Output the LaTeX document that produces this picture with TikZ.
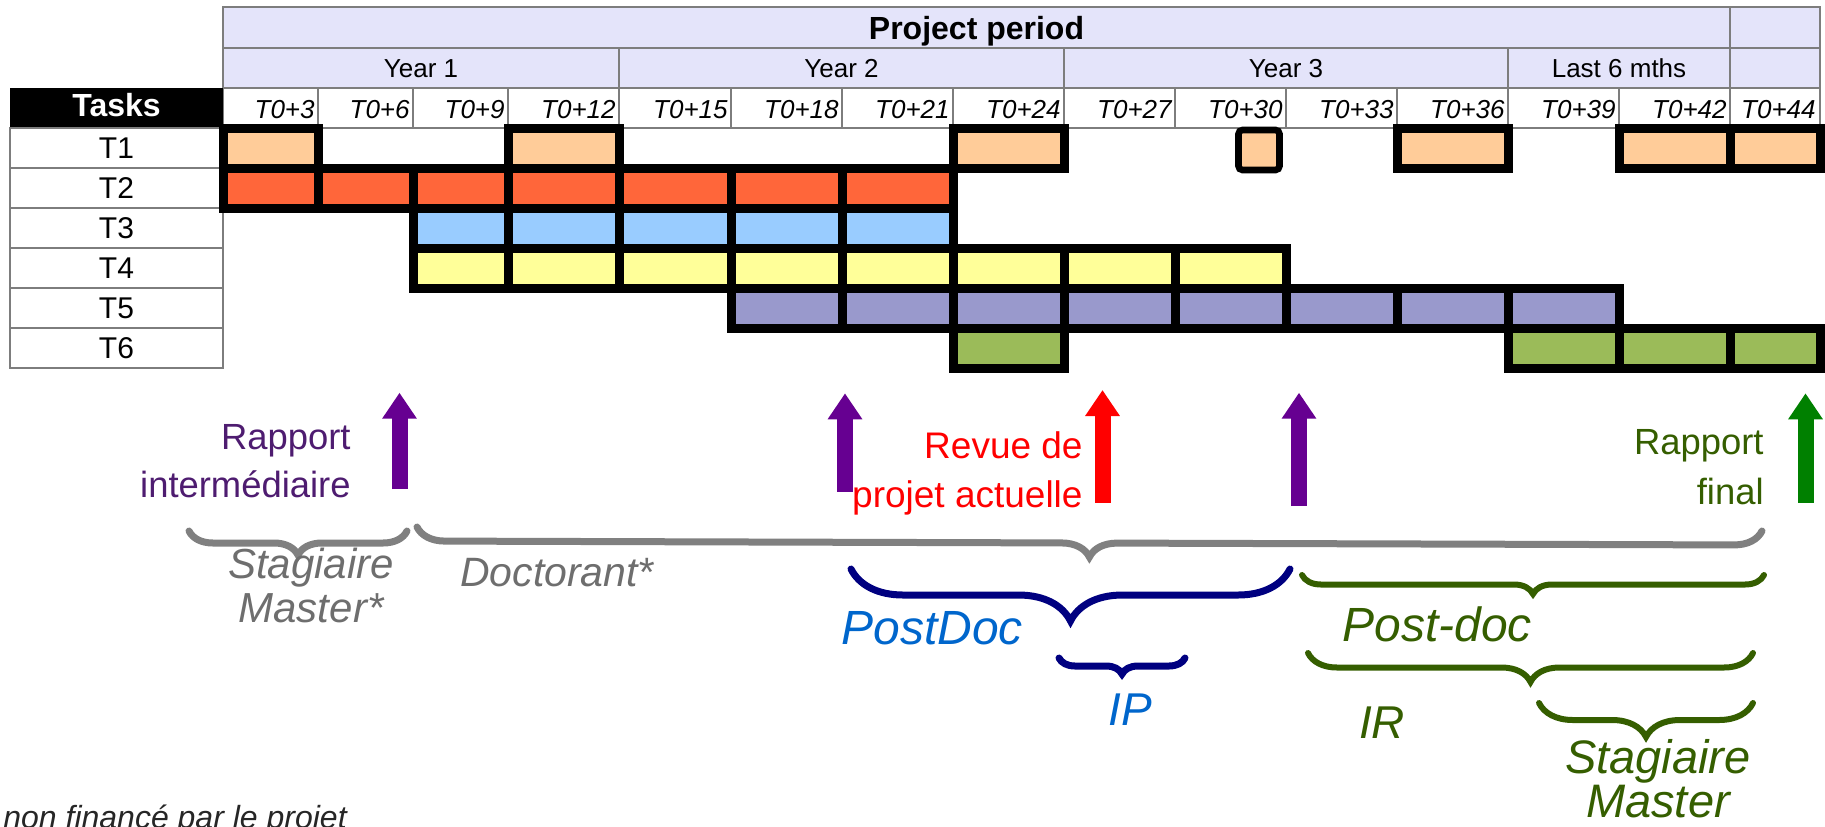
\documentclass[tikz,border=0pt]{standalone}
\usepackage{fontspec}
\setmainfont{Liberation Sans}
\usetikzlibrary{arrows.meta,decorations.pathreplacing}

\definecolor{hdrlav}{RGB}{228,228,250}
\definecolor{gridgray}{RGB}{125,125,125}
\definecolor{peachT}{RGB}{255,204,153}
\definecolor{orangeT}{RGB}{255,102,58}
\definecolor{blueT}{RGB}{153,204,255}
\definecolor{yellowT}{RGB}{255,255,153}
\definecolor{lilacT}{RGB}{153,153,204}
\definecolor{greenT}{RGB}{155,187,89}
\definecolor{plum}{RGB}{102,0,145}
\definecolor{plumtext}{RGB}{78,28,112}
\definecolor{mossgreen}{RGB}{53,94,0}
\definecolor{markgreen}{RGB}{0,128,0}
\definecolor{navybr}{RGB}{0,0,128}
\definecolor{bluetext}{RGB}{0,102,204}
\definecolor{graybr}{RGB}{128,128,128}
\definecolor{graytext}{RGB}{110,110,110}

\newcommand\fsz[2]{\fontsize{#1}{#2}\selectfont}

\tikzset{
	gridline/.style={draw=gridgray, line width=0.7pt},
	cellbox/.style={draw=black, line width=4.5pt},
	milestone/.style={line width=8pt, -{Triangle[length=13pt,width=16.5pt]}},
	curly/.style={decorate, line width=3.5pt, line cap=round, decoration={brace, mirror, amplitude=#1}},
	txt/.style={inner sep=0pt},
}

\begin{document}
\begin{tikzpicture}[x=0.5pt, y=-0.5pt]
		%%%%% START %%%%%
		\useasboundingbox (0,0) rectangle (1825,826);
		
		% header
		\filldraw[gridline, fill=hdrlav] (223,7) rectangle (1730,48) (1730,7) rectangle (1820,48);
		\filldraw[gridline, fill=hdrlav] (223,48) rectangle (619,88) (619,48) rectangle (1064,88) (1064,48) rectangle (1508,88) (1508,48) rectangle (1730,88) (1730,48) rectangle (1820,88);
		\draw[gridline] (223,88) rectangle (318,128) (318,88) rectangle (413,128) (413,88) rectangle (508,128) (508,88) rectangle (619,128) (619,88) rectangle (731,128) (731,88) rectangle (842,128) (842,88) rectangle (953,128) (953,88) rectangle (1064,128) (1064,88) rectangle (1175,128) (1175,88) rectangle (1286,128) (1286,88) rectangle (1397,128) (1397,88) rectangle (1508,128) (1508,88) rectangle (1619,128) (1619,88) rectangle (1730,128) (1730,88) rectangle (1820,128);
		
		\node[txt, font=\fsz{16}{19}\bfseries, anchor=base] (period) at (976.5,39.3) {Project period};
		\node[txt, font=\fsz{13}{15}, anchor=base] (year1) at (421,77.5) {Year 1};
		\node[txt, font=\fsz{13}{15}, anchor=base] (year2) at (841.5,77.5) {Year 2};
		\node[txt, font=\fsz{13}{15}, anchor=base] (year3) at (1286,77.5) {Year 3};
		\node[txt, font=\fsz{13}{15}, anchor=base] (last6) at (1619,77.5) {Last 6 mths};
		
		\node[txt, font=\fsz{13}{15}\itshape, anchor=base east] (m3) at (315,118.3) {T0+3};
		\node[txt, font=\fsz{13}{15}\itshape, anchor=base east] (m6) at (410,118.3) {T0+6};
		\node[txt, font=\fsz{13}{15}\itshape, anchor=base east] (m9) at (505,118.3) {T0+9};
		\node[txt, font=\fsz{13}{15}\itshape, anchor=base east] (m12) at (616,118.3) {T0+12};
		\node[txt, font=\fsz{13}{15}\itshape, anchor=base east] (m15) at (728,118.3) {T0+15};
		\node[txt, font=\fsz{13}{15}\itshape, anchor=base east] (m18) at (839,118.3) {T0+18};
		\node[txt, font=\fsz{13}{15}\itshape, anchor=base east] (m21) at (950,118.3) {T0+21};
		\node[txt, font=\fsz{13}{15}\itshape, anchor=base east] (m24) at (1061,118.3) {T0+24};
		\node[txt, font=\fsz{13}{15}\itshape, anchor=base east] (m27) at (1172,118.3) {T0+27};
		\node[txt, font=\fsz{13}{15}\itshape, anchor=base east] (m30) at (1283,118.3) {T0+30};
		\node[txt, font=\fsz{13}{15}\itshape, anchor=base east] (m33) at (1394,118.3) {T0+33};
		\node[txt, font=\fsz{13}{15}\itshape, anchor=base east] (m36) at (1505,118.3) {T0+36};
		\node[txt, font=\fsz{13}{15}\itshape, anchor=base east] (m39) at (1616,118.3) {T0+39};
		\node[txt, font=\fsz{13}{15}\itshape, anchor=base east] (m42) at (1727,118.3) {T0+42};
		\node[txt, font=\fsz{13}{15}\itshape, anchor=base east] (m44) at (1816,118.3) {T0+44};
		
		% task column
		\fill[black] (10,88) rectangle (223,128);
		\node[txt, font=\fsz{16}{19}\bfseries, text=white, anchor=base] (tasks) at (116.5,116.7) {Tasks};
		\draw[gridline] (10,128) rectangle (223,168) (10,168) rectangle (223,208) (10,208) rectangle (223,248) (10,248) rectangle (223,288) (10,288) rectangle (223,328) (10,328) rectangle (223,368);
		\node[txt, font=\fsz{15}{18}, anchor=base] (t1) at (116.5,158.3) {T1};
		\node[txt, font=\fsz{15}{18}, anchor=base] (t2) at (116.5,198.3) {T2};
		\node[txt, font=\fsz{15}{18}, anchor=base] (t3) at (116.5,238.3) {T3};
		\node[txt, font=\fsz{15}{18}, anchor=base] (t4) at (116.5,278.3) {T4};
		\node[txt, font=\fsz{15}{18}, anchor=base] (t5) at (116.5,318.3) {T5};
		\node[txt, font=\fsz{15}{18}, anchor=base] (t6) at (116.5,358.3) {T6};
		
		% gantt cells
		\filldraw[cellbox, fill=peachT] (223,128) rectangle (318,168) (508,128) rectangle (619,168) (953,128) rectangle (1064,168) (1397,128) rectangle (1508,168) (1619,128) rectangle (1730,168) (1730,128) rectangle (1820,168);
		\filldraw[cellbox, fill=orangeT] (223,168) rectangle (318,208) (318,168) rectangle (413,208) (413,168) rectangle (508,208) (508,168) rectangle (619,208) (619,168) rectangle (731,208) (731,168) rectangle (842,208) (842,168) rectangle (953,208);
		\filldraw[cellbox, fill=peachT, line width=3.3pt, rounded corners=2pt] (1238.5,130) rectangle (1279.5,170);
		\filldraw[cellbox, fill=blueT] (413,208) rectangle (508,248) (508,208) rectangle (619,248) (619,208) rectangle (731,248) (731,208) rectangle (842,248) (842,208) rectangle (953,248);
		\filldraw[cellbox, fill=yellowT] (413,248) rectangle (508,288) (508,248) rectangle (619,288) (619,248) rectangle (731,288) (731,248) rectangle (842,288) (842,248) rectangle (953,288) (953,248) rectangle (1064,288) (1064,248) rectangle (1175,288) (1175,248) rectangle (1286,288);
		\filldraw[cellbox, fill=lilacT] (731,288) rectangle (842,328) (842,288) rectangle (953,328) (953,288) rectangle (1064,328) (1064,288) rectangle (1175,328) (1175,288) rectangle (1286,328) (1286,288) rectangle (1397,328) (1397,288) rectangle (1508,328) (1508,288) rectangle (1619,328);
		\filldraw[cellbox, fill=greenT] (953,328) rectangle (1064,368) (1508,328) rectangle (1619,368) (1619,328) rectangle (1730,368) (1730,328) rectangle (1820,368);
		
		% milestones
		\draw[milestone, plum] (399.5,489) -- (399.5,392.7);
		\draw[milestone, plum] (845,491.7) -- (845,393.3);
		\draw[milestone, red] (1102.5,502.7) -- (1102.5,390);
		\draw[milestone, plum] (1299,506) -- (1299,392.7);
		\draw[milestone, markgreen] (1805.5,502.7) -- (1805.5,393.3);
		
		\node[txt, font=\fsz{18.2}{24}, text=plumtext, align=right, anchor=north east] (interim) at (351,424) {Rapport\\intermédiaire};
		\node[txt, font=\fsz{18.5}{24.2}, text=red, align=right, anchor=north east] (review) at (1083,431.7) {Revue de\\projet actuelle};
		\node[txt, font=\fsz{18.2}{25}, text=mossgreen, align=right, anchor=north east] (final) at (1764,429.3) {Rapport\\final};
		
		% staff braces
		\draw[curly=12pt, graybr] (189,531) -- (407,531);
		\draw[curly=14pt, graybr] (417,527) -- (1762,531);
		\draw[curly=26pt, navybr] (851,569) -- (1290,569);
		\draw[curly=8pt, navybr] (1059,658) -- (1185,658);
		\draw[curly=9.5pt, mossgreen, line width=3pt] (1302,575) -- (1764,575);
		\draw[curly=14.5pt, mossgreen, line width=3pt] (1308,653) -- (1753,653);
		\draw[curly=17pt, mossgreen, line width=3pt] (1539,703) -- (1753,703);
		
		\node[txt, font=\fsz{21}{21.7}\itshape, text=graytext, align=center, anchor=north] (intern1) at (311,548) {Stagiaire\\Master*};
		\node[txt, font=\fsz{20.5}{24}\itshape, text=graytext, anchor=base] (phd) at (557,586.7) {Doctorant*};
		\node[txt, font=\fsz{24}{28}\itshape, text=bluetext, anchor=base] (postdoc1) at (932,644) {PostDoc};
		\node[txt, font=\fsz{23}{26}\itshape, text=bluetext, anchor=base] (ip) at (1130,725) {IP};
		\node[txt, font=\fsz{24}{28}\itshape, text=mossgreen, anchor=base] (postdoc2) at (1437,641.7) {Post-doc};
		\node[txt, font=\fsz{23}{26}\itshape, text=mossgreen, anchor=base] (ir) at (1382,738.3) {IR};
		\node[txt, font=\fsz{23.5}{22}\itshape, text=mossgreen, align=center, anchor=north] (intern2) at (1658,739) {Stagiaire\\Master};
		
		\node[txt, font=\fsz{16}{19}\itshape, text=black!85, anchor=base west] (unfunded) at (3,828) {non financé par le projet};
		%%%%% END %%%%%
\end{tikzpicture}
\end{document}
